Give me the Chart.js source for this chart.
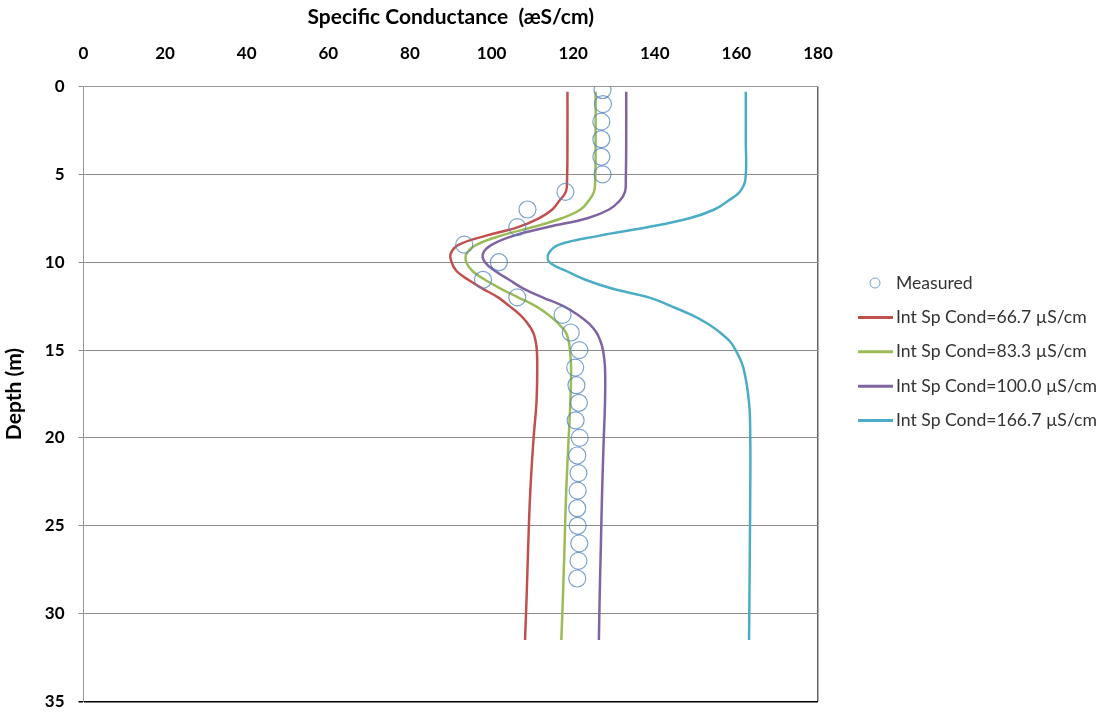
<!DOCTYPE html>
<html>
<head>
<meta charset="utf-8">
<script src="https://cdn.jsdelivr.net/npm/chart.js@4/dist/chart.umd.min.js"></script>
<style>
  html, body { margin: 0; padding: 0; background: #fff; }
  #wrap { width: 1107px; height: 712px; position: relative; }
</style>
</head>
<body>
<div id="wrap"><canvas id="chart"></canvas></div>
<script>
// Measured profile
const measuredDepth = [0.2, 1, 2, 3, 4, 5, 6, 7, 8, 9, 10, 11, 12, 13, 14, 15, 16, 17, 18, 19, 20, 21, 22, 23, 24, 25, 26, 27, 28];
const measuredCond = [127.2, 127.3, 126.9, 126.9, 126.9, 127.2, 118.1, 108.8, 106.3, 93.3, 101.8, 97.9, 106.3, 117.4, 119.4,
  121.5, 120.5, 120.8, 121.4, 120.6, 121.6, 121.0, 121.3, 121.1, 121.0, 121.1, 121.5, 121.3, 121.0];

// Model runs, all read at the same depths
const modelDepth = [0.3, 3, 5.3, 6, 6.5, 7, 7.5, 8, 8.5, 9, 9.5, 10, 10.5, 11, 11.5, 12, 12.5, 13, 13.5, 14, 14.5, 15, 16, 18, 20, 23, 26, 29, 31.5];
const cond667 = [118.6, 118.6, 118.5, 118.2, 116.6, 114.9, 111.6, 106.5, 98.5, 92.0, 90.0, 90.2, 91.4, 94.3, 97.8, 101.6,
  104.4, 107.0, 108.9, 110.2, 110.8, 111.1, 111.2, 111.0, 110.3, 109.5, 109.0, 108.6, 108.2];
const cond833 = [125.5, 125.5, 125.4, 125.1, 123.8, 121.8, 117.2, 110.2, 102.2, 96.4, 93.9, 93.8, 95.3, 98.4, 102.2, 106.5,
  110.8, 114.0, 116.4, 118.2, 118.9, 119.2, 119.5, 119.3, 118.9, 118.3, 117.9, 117.5, 117.1];
const cond1000 = [133.0, 133.0, 132.9, 132.7, 131.4, 128.8, 123.5, 113.8, 105.3, 100.1, 97.9, 98.4, 100.9, 104.3, 107.8, 112.5,
  117.6, 121.2, 123.9, 125.7, 126.7, 127.3, 127.8, 127.8, 127.5, 127.1, 126.8, 126.5, 126.3];
const cond1667 = [162.3, 162.3, 162.2, 160.8, 158.0, 154.6, 148.5, 138.5, 126.2, 116.6, 114.0, 114.2, 118.3, 123.0, 129.5, 138.5,
  144.0, 149.0, 153.0, 156.0, 158.4, 159.8, 161.7, 163.1, 163.4, 163.4, 163.3, 163.2, 163.1];

const xTicks = [0, 20, 40, 60, 80, 100, 120, 140, 160, 180];
const yTicks = [0, 5, 10, 15, 20, 25, 30, 35];

const toPoints = (xs, ys) => xs.map((v, i) => ({ x: v, y: ys[i] }));

function lineSet(label, values, color) {
  return {
    label: label,
    data: toPoints(values, modelDepth),
    showLine: true,
    borderColor: color,
    backgroundColor: color,
    borderWidth: 2.5,
    pointRadius: 0,
    tension: 0.4,
    fill: false
  };
}

// Legend drawn at the right, in the same place as the original
const sideLegend = {
  id: 'sideLegend',
  afterDraw(chart) {
    const ctx = chart.ctx;
    const x0 = 858, lineLen = 35, textX = 896;
    let y = 283;
    ctx.save();
    ctx.font = '17.6px Lato';
    ctx.textBaseline = 'middle';
    chart.data.datasets.forEach((ds) => {
      ctx.strokeStyle = ds.borderColor;
      ctx.beginPath();
      if (ds.showLine) {
        ctx.lineWidth = 3;
        ctx.moveTo(x0, y);
        ctx.lineTo(x0 + lineLen, y);
      } else {
        ctx.lineWidth = 1;
        ctx.arc(875, y, 5, 0, Math.PI * 2);
      }
      ctx.stroke();
      ctx.fillStyle = '#333';
      ctx.fillText(ds.label, textX, y);
      y += 34.4;
    });
    ctx.restore();
  }
};

const ctx = document.getElementById('chart').getContext('2d');

new Chart(ctx, {
  type: 'scatter',
  data: {
    datasets: [
      {
        label: 'Measured',
        data: toPoints(measuredCond, measuredDepth),
        showLine: false,
        borderColor: 'rgba(79,129,189,0.75)',
        backgroundColor: 'rgba(0,0,0,0)',
        borderWidth: 1.2,
        pointRadius: 8.5,
        pointStyle: 'circle'
      },
      lineSet('Int Sp Cond=66.7 \u00b5S/cm', cond667, '#c0504d'),
      lineSet('Int Sp Cond=83.3 \u00b5S/cm', cond833, '#9bbb59'),
      lineSet('Int Sp Cond=100.0 \u00b5S/cm', cond1000, '#8064a2'),
      lineSet('Int Sp Cond=166.7 \u00b5S/cm', cond1667, '#4bacc6')
    ]
  },
  options: {
    responsive: true,
    maintainAspectRatio: false,
    animation: false,
    layout: { padding: { left: 0, right: 289, top: 0, bottom: 10.5 } },
    plugins: {
      legend: { display: false },
      tooltip: { enabled: false }
    },
    scales: {
      x: {
        type: 'linear',
        position: 'top',
        min: 0,
        max: 180,
        afterBuildTicks: (s) => { s.ticks = xTicks.map(v => ({ value: v })); },
        afterFit: (s) => { s.height = 86.5; },
        ticks: {
          color: '#000',
          padding: 23,
          font: { family: 'Lato', size: 17, weight: 'bold' }
        },
        grid: {
          drawTicks: false,
          color: (c) => (c.tick && c.tick.value === 180 ? '#666' : 'rgba(0,0,0,0)'),
          lineWidth: 1.5
        },
        border: { display: true, color: '#999', width: 1 },
        title: {
          display: true,
          text: 'Specific Conductance  (\u00e6S/cm)',
          color: '#000',
          font: { family: 'Lato', size: 21, weight: 'bold' },
          padding: { top: 5, bottom: 0 }
        }
      },
      y: {
        type: 'linear',
        position: 'left',
        reverse: true,
        min: 0,
        max: 35,
        afterBuildTicks: (s) => { s.ticks = yTicks.map(v => ({ value: v })); },
        afterFit: (s) => { s.width = 83.5; s.paddingTop = 0; s.paddingBottom = 0; },
        ticks: {
          color: '#000',
          padding: 14,
          font: { family: 'Lato', size: 17, weight: 'bold' }
        },
        grid: {
          drawTicks: true,
          tickLength: 5,
          color: (c) => (c.tick && c.tick.value === 35 ? '#000' : '#8c8c8c'),
          lineWidth: (c) => (c.tick && c.tick.value === 35 ? 1.5 : 1)
        },
        border: { display: true, color: '#999', width: 1 },
        title: {
          display: true,
          text: 'Depth (m)',
          color: '#000',
          font: { family: 'Lato', size: 21, weight: 'bold' },
          padding: { top: 2, bottom: 0 }
        }
      }
    }
  },
  plugins: [sideLegend]
});
</script>
</body>
</html>
